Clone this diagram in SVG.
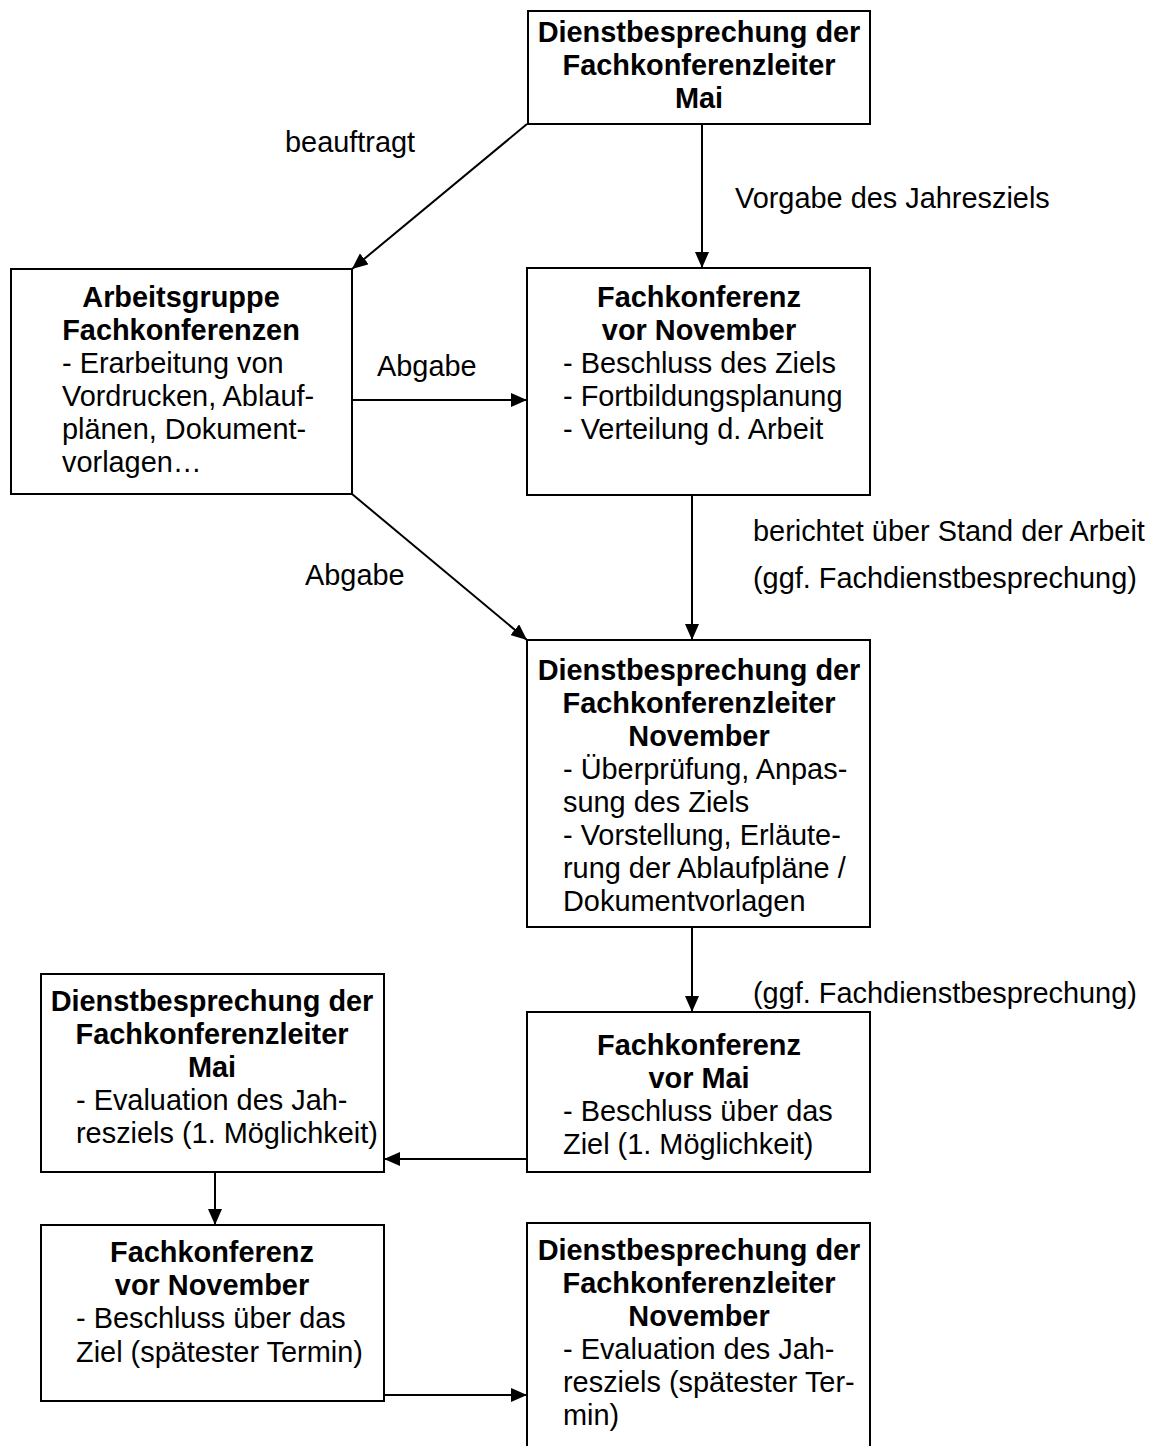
<svg xmlns="http://www.w3.org/2000/svg" width="1163" height="1446" viewBox="0 0 1163 1446">
<style>
.box{fill:#fff;stroke:#000;stroke-width:2}
text{font-family:"Liberation Sans",Arial,sans-serif;font-size:28.9px;fill:#000}
.b{font-weight:bold;text-anchor:middle;font-size:28.9px}
.c{stroke:#000;stroke-width:2;fill:none;marker-end:url(#ah)}
</style>
<defs>
<marker id="ah" markerUnits="userSpaceOnUse" markerWidth="16" markerHeight="14" refX="16" refY="7" orient="auto">
<path d="M0,0 L16,7 L0,14 Z" fill="#000"/>
</marker>
</defs>
<rect width="1163" height="1446" fill="#fff"/>
<g id="connectors">
<line class="c" x1="527" y1="124" x2="352" y2="269"/>
<line class="c" x1="702" y1="124" x2="702" y2="268"/>
<line class="c" x1="352" y1="400" x2="527" y2="400"/>
<line class="c" x1="352" y1="494" x2="527" y2="640"/>
<line class="c" x1="692" y1="495" x2="692" y2="640"/>
<line class="c" x1="692" y1="927" x2="692" y2="1012"/>
<line class="c" x1="527" y1="1159" x2="384" y2="1159"/>
<line class="c" x1="215" y1="1172" x2="215" y2="1225"/>
<line class="c" x1="384" y1="1395" x2="527" y2="1395"/>
<text x="285" y="152">beauftragt</text>
<text x="735" y="208">Vorgabe des Jahresziels</text>
<text x="377" y="376">Abgabe</text>
<text x="305" y="585">Abgabe</text>
<text x="753" y="541">berichtet über Stand der Arbeit</text>
<text x="753" y="588">(ggf. Fachdienstbesprechung)</text>
<text x="753" y="1003">(ggf. Fachdienstbesprechung)</text>
</g>
<g id="n1">
<rect class="box" x="528" y="11" width="342" height="113"/>
<text class="b" x="699" y="42">Dienstbesprechung der</text>
<text class="b" x="699" y="75">Fachkonferenzleiter</text>
<text class="b" x="699" y="108">Mai</text>
</g>
<g id="n2">
<rect class="box" x="11" y="269" width="341" height="225"/>
<text class="b" x="181" y="307">Arbeitsgruppe</text>
<text class="b" x="181" y="340">Fachkonferenzen</text>
<text x="62" y="373">- Erarbeitung von</text>
<text x="62" y="406">Vordrucken, Ablauf-</text>
<text x="62" y="439">plänen, Dokument-</text>
<text x="62" y="472">vorlagen…</text>
</g>
<g id="n3">
<rect class="box" x="527" y="268" width="343" height="227"/>
<text class="b" x="699" y="307">Fachkonferenz</text>
<text class="b" x="699" y="340">vor November</text>
<text x="563" y="373">- Beschluss des Ziels</text>
<text x="563" y="406">- Fortbildungsplanung</text>
<text x="563" y="439">- Verteilung d. Arbeit</text>
</g>
<g id="n4">
<rect class="box" x="527" y="640" width="343" height="287"/>
<text class="b" x="699" y="680">Dienstbesprechung der</text>
<text class="b" x="699" y="713">Fachkonferenzleiter</text>
<text class="b" x="699" y="746">November</text>
<text x="563" y="779">- Überprüfung, Anpas-</text>
<text x="563" y="812">sung des Ziels</text>
<text x="563" y="845">- Vorstellung, Erläute-</text>
<text x="563" y="878">rung der Ablaufpläne /</text>
<text x="563" y="911">Dokumentvorlagen</text>
</g>
<g id="n5">
<rect class="box" x="527" y="1012" width="343" height="160"/>
<text class="b" x="699" y="1055">Fachkonferenz</text>
<text class="b" x="699" y="1088">vor Mai</text>
<text x="563" y="1121">- Beschluss über das</text>
<text x="563" y="1154">Ziel (1. Möglichkeit)</text>
</g>
<g id="n6">
<rect class="box" x="41" y="974" width="343" height="198"/>
<text class="b" x="212" y="1011">Dienstbesprechung der</text>
<text class="b" x="212" y="1044">Fachkonferenzleiter</text>
<text class="b" x="212" y="1077">Mai</text>
<text x="76" y="1110">- Evaluation des Jah-</text>
<text x="76" y="1143">resziels (1. Möglichkeit)</text>
</g>
<g id="n7">
<rect class="box" x="41" y="1225" width="343" height="176"/>
<text class="b" x="212" y="1262">Fachkonferenz</text>
<text class="b" x="212" y="1295">vor November</text>
<text x="76" y="1328">- Beschluss über das</text>
<text x="76" y="1362">Ziel (spätester Termin)</text>
</g>
<g id="n8">
<rect class="box" x="527" y="1223" width="343" height="240"/>
<text class="b" x="699" y="1260">Dienstbesprechung der</text>
<text class="b" x="699" y="1293">Fachkonferenzleiter</text>
<text class="b" x="699" y="1326">November</text>
<text x="563" y="1359">- Evaluation des Jah-</text>
<text x="563" y="1392">resziels (spätester Ter-</text>
<text x="563" y="1425">min)</text>
</g>
</svg>
